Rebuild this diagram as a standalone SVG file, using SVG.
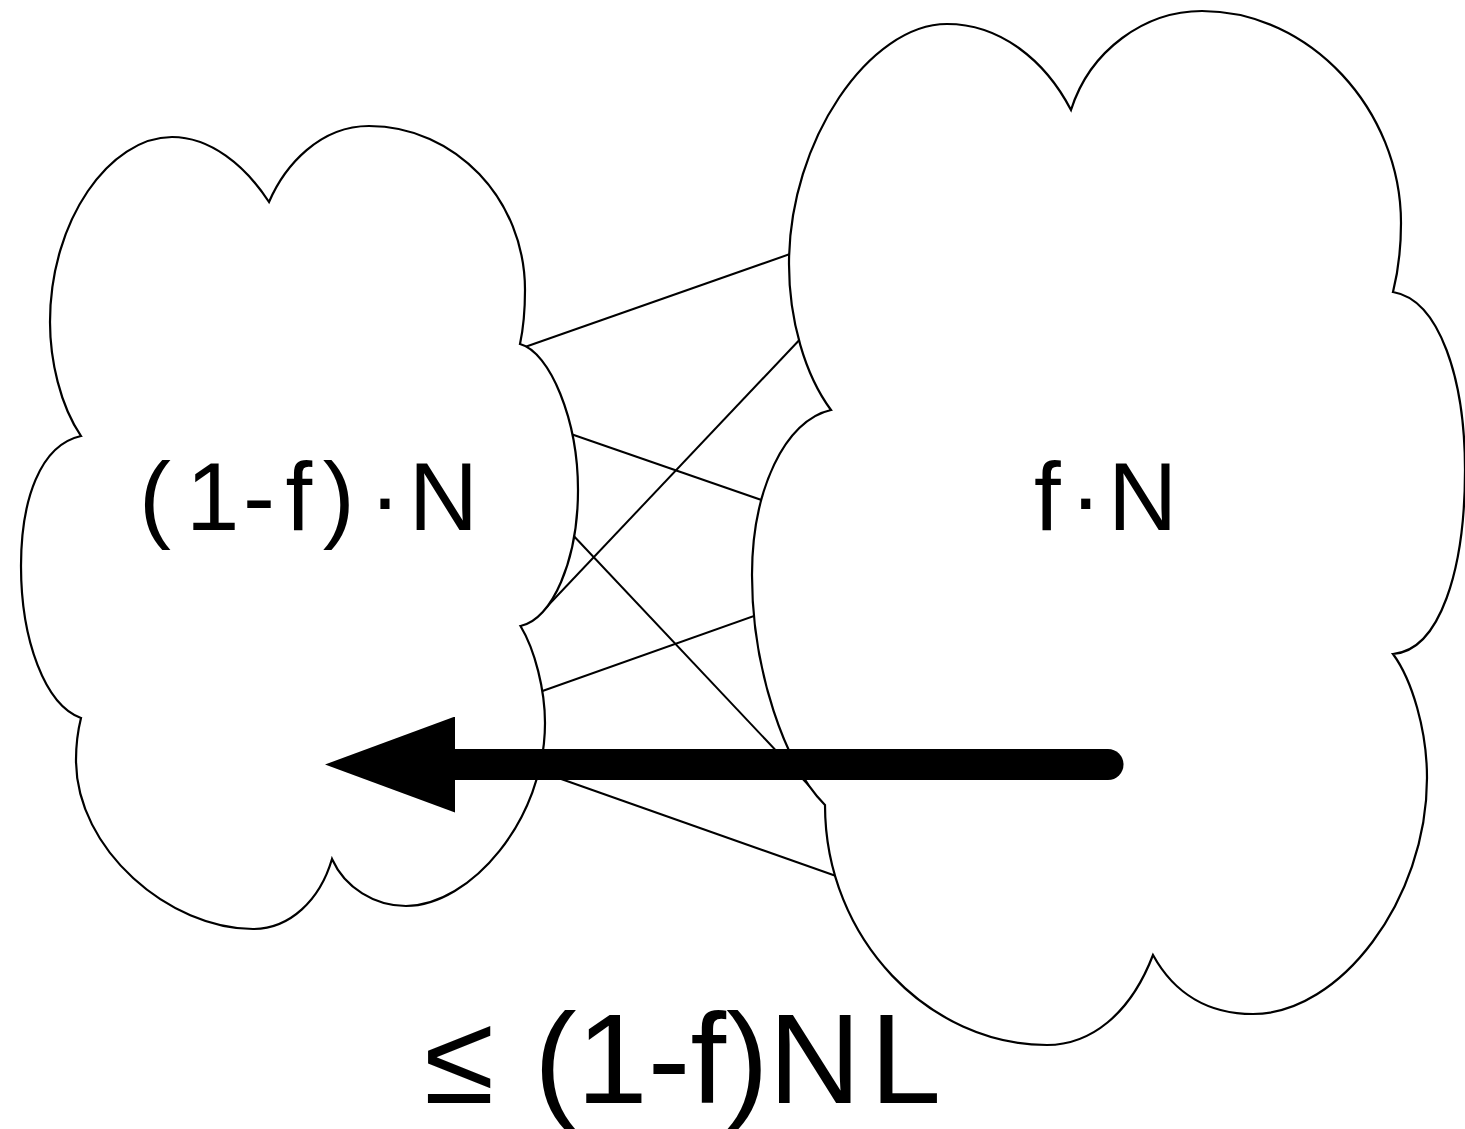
<svg xmlns="http://www.w3.org/2000/svg" width="1465" height="1129" viewBox="0 0 1465 1129">
  <style>
    .cloud { fill: #ffffff; stroke: #000000; stroke-width: 2.2; stroke-linejoin: miter; }
    .link { stroke: #000000; stroke-width: 2; fill: none; }
    .label { font-family: "Liberation Sans", Arial, sans-serif; font-size: 96px; fill: #000000; }
    .big { font-family: "Liberation Sans", Arial, sans-serif; font-size: 128px; fill: #000000; }
    .flow { stroke: #000000; stroke-width: 31; fill: none; stroke-linecap: round; }
  </style>
  <defs>
    <marker id="head" markerUnits="userSpaceOnUse" markerWidth="130" markerHeight="96" viewBox="0 0 130 96" refX="15" refY="48" orient="auto">
      <path d="M0,0 L130,48 L0,96 Z" fill="#000000"/>
    </marker>
  </defs>
  <rect width="1465" height="1129" fill="#ffffff"/>

  <g id="connectors">
    <line class="link" x1="515" y1="350.5" x2="800" y2="250.5"/>
    <line class="link" x1="568" y1="433" x2="770" y2="503"/>
    <line class="link" x1="540" y1="614" x2="805" y2="334"/>
    <line class="link" x1="570" y1="532" x2="832" y2="810"/>
    <line class="link" x1="534" y1="694" x2="764" y2="612.5"/>
    <line class="link" x1="530" y1="768" x2="846" y2="879.5"/>
  </g>

  <g id="node-left">
    <path class="cloud" d="M269,202 C285,165 320,126 369,126 C455,126 525,199.5 525,290 C525,310 523,330 520,344 C550,352 578,420 578,490 C578,560 552,620 520.5,626 C535,650 545,690 545,723 C545,820 470,906 406,906 C375,906 345,888 332,859 C320,900 290,929 253,929 C170,929 76,850 76,760 C76,745 78,730 81,718 C45,705 21,640 21,566 C21,500 40,445 81,436 C60,405 50,360 50,322 C50,220 110,137 172,137 C210,137 245,165 269,202 Z"/>
    <text class="label" x="139 186 243 285.5 322.7 369 408.7" y="530">(1-f)·N</text>
  </g>

  <g id="node-right">
    <path class="cloud" d="M1071,110 C1090,50 1145,11 1202,11 C1310,11 1401,110 1401,223 C1401,250 1398,272 1393,292 C1440,300 1465,380 1465,470 C1465,570 1440,650 1393,654 C1412,680 1427,730 1427,778 C1427,900 1340,1014 1253,1014 C1210,1014 1175,995 1153,955 C1130,1015 1090,1045 1047,1045 C930,1045 825,940 825,805 C785,765 752,670 752,575 C752,490 785,420 831,410 C805,375 789,320 789,264 C789,140 870,24 947,24 C1000,24 1045,60 1071,110 Z"/>
    <text class="label" x="1034 1069.7 1108" y="530">f·N</text>
  </g>

  <g id="flow-connector">
    <line class="flow" x1="1108" y1="764.5" x2="440" y2="764.5" marker-end="url(#head)"/>
    <text class="big" x="424 494 534 576.6 647.8 690.4 726 768.6 870" y="1103.3">≤ (1-f)NL</text>
  </g>
</svg>
